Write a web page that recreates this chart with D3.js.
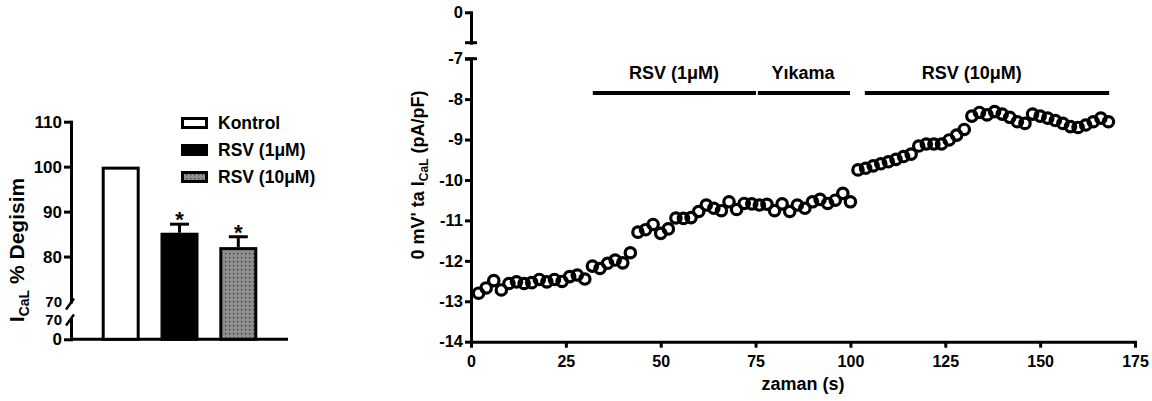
<!DOCTYPE html>
<html>
<head>
<meta charset="utf-8">
<style>
  body { margin: 0; background: #fff; }
  svg { display: block; font-family: "Liberation Sans", Arial, sans-serif; font-weight: bold; }
</style>
</head>
<body>
<svg width="1152" height="401"></svg>
<script src="https://d3js.org/d3.v7.min.js"></script>
<script>

  // ---- bar chart data (left panel)
  var barGroups = ["Kontrol", "RSV (1μM)", "RSV (10μM)"];
  var barMeans = [100, 85.3, 82.1];
  var barSem = [0, 1.9, 2.3];
  var barStars = ["", "*", "*"];
  var barUpperTicks = [70, 80, 90, 100, 110];
  var barLowerTicks = [0, 70];

  // ---- time course data (right panel)
  var timeA = [2, 4, 6, 8, 10, 12, 14, 16, 18, 20, 22, 24, 26, 28, 30, 32, 34, 36, 38, 40,
    42, 44, 46, 48, 50, 52, 54, 56, 58, 60, 62, 64, 66, 68, 70, 72, 74, 76, 78, 80,
    82, 84, 86, 88, 90, 92, 94, 96, 98, 100];
  var currentA = [-12.80, -12.67, -12.49, -12.72, -12.56, -12.52, -12.56, -12.54, -12.46, -12.52,
    -12.46, -12.51, -12.39, -12.35, -12.45, -12.13, -12.19, -12.06, -11.98, -12.05,
    -11.80, -11.29, -11.23, -11.10, -11.32, -11.21, -10.94, -10.95, -10.93, -10.78,
    -10.62, -10.70, -10.76, -10.54, -10.73, -10.58, -10.59, -10.62, -10.60, -10.76,
    -10.59, -10.78, -10.62, -10.70, -10.54, -10.48, -10.58, -10.50, -10.33, -10.54];
  var timeB = [102, 104, 106, 108, 110, 112, 114, 116, 118, 120, 122, 124, 126, 128, 130, 132, 134,
    136, 138, 140, 142, 144, 146, 148, 150, 152, 154, 156, 158, 160, 162, 164, 166, 168];
  var currentB = [-9.75, -9.71, -9.65, -9.60, -9.55, -9.49, -9.42, -9.36, -9.16, -9.11,
    -9.11, -9.11, -9.01, -8.89, -8.75, -8.42, -8.33, -8.39, -8.31, -8.37,
    -8.45, -8.56, -8.60, -8.37, -8.42, -8.47, -8.53, -8.60, -8.68, -8.70,
    -8.64, -8.56, -8.47, -8.56];

  var periods = ["RSV (1μM)", "Yıkama", "RSV (10μM)"];
  var periodStart = [32.1, 75.6, 103.8];
  var periodEnd = [75.1, 99.9, 168.2];
  var periodLabelAt = [53.5, 87.5, 132];
  var periodLevel = -7.85;

  var xTicks = [0, 25, 50, 75, 100, 125, 150, 175];
  var yTicks = [-14, -13, -12, -11, -10, -9, -8, -7];
  var yTopTicks = [0];

  var svg = d3.select("svg");
  var plain = function (d) { return String(d); };

  var defs = svg.append("defs");
  var pat = defs.append("pattern").attr("id", "dots")
    .attr("patternUnits", "userSpaceOnUse").attr("width", 4).attr("height", 4);
  pat.append("rect").attr("width", 4).attr("height", 4).attr("fill", "#8e8e8e");
  pat.append("rect").attr("x", 1).attr("y", 1).attr("width", 1.3).attr("height", 1.3).attr("fill", "#3a3a3a");

  var fills = ["#fff", "#000", "url(#dots)"];

  function styleAxis(g, size) {
    g.selectAll("path.domain").attr("stroke-width", 3).attr("stroke-linecap", "square");
    g.selectAll(".tick line").attr("stroke-width", 3);
    g.selectAll("text").attr("font-size", size).attr("font-weight", "bold").attr("fill", "#000")
      .attr("font-family", "'Liberation Sans', Arial, sans-serif");
  }

  // ================= left panel =================
  var lx0 = 71, lBase = 339.3;
  var yL = d3.scaleLinear().domain([70, 110]).range([301.5, 121.7]);
  var yL0 = d3.scaleLinear().domain([0, 70]).range([lBase, 319.5]);
  var xL = d3.scaleBand().domain(barGroups).range([101.7, 257.3]).paddingInner(0.354).paddingOuter(0);

  var gLu = svg.append("g").attr("transform", "translate(" + lx0 + ",0)")
    .call(d3.axisLeft(yL).tickValues(barUpperTicks).tickFormat(plain).tickSize(7).tickSizeOuter(0).tickPadding(2));
  styleAxis(gLu, 17);

  var gLl = svg.append("g").attr("transform", "translate(" + lx0 + ",0)")
    .call(d3.axisLeft(yL0).tickValues(barLowerTicks).tickFormat(plain).tickSize(7).tickSizeOuter(0).tickPadding(2));
  styleAxis(gLl, 17);

  // the two "70" labels sit close together at the break
  [gLu, gLl].forEach(function (g) {
    var t = g.selectAll(".tick").filter(function (d) { return d === 70; });
    t.select("line").remove();
    t.select("text").attr("font-size", 15);
  });

  // break marks
  [yL(70), yL0(70)].forEach(function (yy, i) {
    var c = i === 0 ? yy + 2 : yy;
    svg.append("line")
      .attr("x1", lx0 - 5).attr("y1", c + 6).attr("x2", lx0 + 3).attr("y2", c - 5)
      .attr("stroke", "#000").attr("stroke-width", 2.5);
  });

  // x baseline
  svg.append("line").attr("x1", lx0).attr("x2", 288).attr("y1", lBase).attr("y2", lBase)
    .attr("stroke", "#000").attr("stroke-width", 3);

  var bw = xL.bandwidth();
  svg.append("g").selectAll("rect").data(barGroups).join("rect")
    .attr("x", function (d) { return xL(d) + 1.5; })
    .attr("y", function (d, i) { return yL(barMeans[i]) + 1.5; })
    .attr("width", bw - 3)
    .attr("height", function (d, i) { return lBase - yL(barMeans[i]) - 1.5; })
    .attr("fill", function (d, i) { return fills[i]; })
    .attr("stroke", "#000").attr("stroke-width", 3);

  // error bars (upper only)
  barGroups.forEach(function (d, i) {
    if (!barSem[i]) return;
    var cx = xL(d) + bw / 2, top = yL(barMeans[i] + barSem[i]);
    svg.append("line").attr("x1", cx).attr("x2", cx).attr("y1", yL(barMeans[i])).attr("y2", top)
      .attr("stroke", "#000").attr("stroke-width", 3);
    svg.append("line").attr("x1", cx - 9.5).attr("x2", cx + 9.5).attr("y1", top).attr("y2", top)
      .attr("stroke", "#000").attr("stroke-width", 3);
    svg.append("text").attr("x", cx).attr("y", top + 3).attr("text-anchor", "middle")
      .attr("font-size", 22).text(barStars[i]);
  });

  // legend
  var legend = svg.append("g").selectAll("g").data(barGroups).join("g")
    .attr("transform", function (d, i) { return "translate(181," + (123 + i * 27) + ")"; });
  legend.append("rect").attr("x", 1.5).attr("y", -4.5).attr("width", 24).attr("height", 9)
    .attr("fill", function (d, i) { return fills[i]; }).attr("stroke", "#000").attr("stroke-width", 3);
  legend.append("text").attr("x", 37).attr("dy", "0.36em").attr("font-size", 17.5).text(function (d) { return d; });

  var lLab = svg.append("text").attr("transform", "translate(24,250) rotate(-90)")
    .attr("text-anchor", "middle").attr("font-size", 21);
  lLab.append("tspan").text("I");
  lLab.append("tspan").attr("dy", 5).attr("font-size", 14).text("CaL");
  lLab.append("tspan").attr("dy", -5).text(" % Degisim");

  // ================= right panel =================
  var xR = d3.scaleLinear().domain([0, 175]).range([471, 1135]);
  var yR = d3.scaleLinear().domain([-14, -7]).range([341.7, 58.7]);
  var yRtop = d3.scaleLinear().domain([0, -0.75]).range([12.3, 42.7]);

  var gx = svg.append("g").attr("transform", "translate(0," + yR(-14) + ")")
    .call(d3.axisBottom(xR).tickValues(xTicks).tickFormat(plain).tickSize(6).tickSizeOuter(0).tickPadding(8));
  styleAxis(gx, 16);

  var gy = svg.append("g").attr("transform", "translate(" + xR(0) + ",0)")
    .call(d3.axisLeft(yR).tickValues(yTicks).tickFormat(plain).tickSize(6).tickSizeOuter(0).tickPadding(2));
  styleAxis(gy, 16.5);

  var gyt = svg.append("g").attr("transform", "translate(" + xR(0) + ",0)")
    .call(d3.axisLeft(yRtop).tickValues(yTopTicks).tickFormat(plain).tickSize(6).tickSizeOuter(0).tickPadding(2));
  styleAxis(gyt, 16.5);

  // break caps
  [yRtop(-0.75), yR(-7)].forEach(function (yy) {
    svg.append("line").attr("x1", xR(0) - 6).attr("x2", xR(0) + 6).attr("y1", yy).attr("y2", yy)
      .attr("stroke", "#000").attr("stroke-width", 3);
  });

  // treatment bars
  periods.forEach(function (p, i) {
    svg.append("line").attr("x1", xR(periodStart[i])).attr("x2", xR(periodEnd[i]))
      .attr("y1", yR(periodLevel)).attr("y2", yR(periodLevel))
      .attr("stroke", "#000").attr("stroke-width", 4);
    svg.append("text").attr("x", xR(periodLabelAt[i])).attr("y", yR(periodLevel) - 14)
      .attr("text-anchor", "middle").attr("font-size", 18).text(p);
  });

  var pts = timeA.map(function (t, i) { return [t, currentA[i]]; })
    .concat(timeB.map(function (t, i) { return [t, currentB[i]]; }));

  svg.append("g").selectAll("circle").data(pts).join("circle")
    .attr("cx", function (d) { return xR(d[0]); })
    .attr("cy", function (d) { return yR(d[1]); })
    .attr("r", 5.2)
    .attr("fill", "none").attr("stroke", "#000").attr("stroke-width", 3.2);

  svg.append("text").attr("x", xR(87.5)).attr("y", 390).attr("text-anchor", "middle")
    .attr("font-size", 18).text("zaman (s)");

  var rLab = svg.append("text").attr("transform", "translate(424,175) rotate(-90)")
    .attr("text-anchor", "middle").attr("font-size", 18);
  rLab.append("tspan").text("0 mV' ta I");
  rLab.append("tspan").attr("dy", 4).attr("font-size", 12).text("CaL");
  rLab.append("tspan").attr("dy", -4).text(" (pA/pF)");

</script>
</body>
</html>
